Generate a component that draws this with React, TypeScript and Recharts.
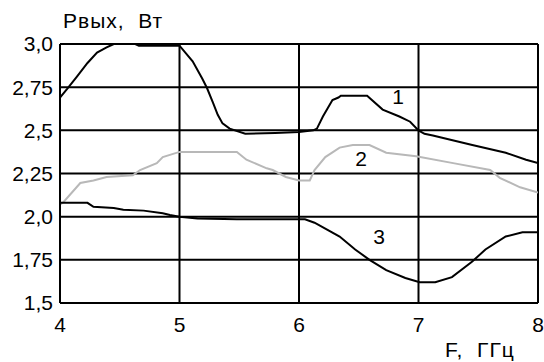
import React from "react";
import { LineChart, Line, XAxis, YAxis, CartesianGrid, ReferenceDot } from "recharts";

const xTicks = [4, 5, 6, 7, 8];
const yTicks = [1.5, 1.75, 2.0, 2.25, 2.5, 2.75, 3.0];
const yTickLabels = ["1,5", "1,75", "2,0", "2,25", "2,5", "2,75", "3,0"];

const s1x = [4.0, 4.06, 4.14, 4.23, 4.31, 4.39, 4.45, 4.63, 4.66, 5.0, 5.11, 5.19, 5.23, 5.28, 5.32, 5.36, 5.42, 5.55, 5.8, 6.0, 6.12, 6.15, 6.2, 6.28, 6.33, 6.35, 6.57, 6.7, 6.84, 6.93, 7.0, 7.05, 7.12, 7.45, 7.73, 7.9, 8.0];
const s1y = [2.69, 2.74, 2.81, 2.89, 2.95, 2.98, 3.0, 3.0, 2.99, 2.99, 2.9, 2.8, 2.745, 2.66, 2.59, 2.54, 2.51, 2.48, 2.485, 2.49, 2.5, 2.51, 2.58, 2.675, 2.69, 2.7, 2.7, 2.62, 2.58, 2.55, 2.5, 2.48, 2.47, 2.415, 2.37, 2.33, 2.31];

const s2x = [4.0, 4.03, 4.17, 4.28, 4.39, 4.61, 4.67, 4.81, 4.86, 5.0, 5.48, 5.56, 5.73, 5.78, 5.89, 6.0, 6.09, 6.13, 6.22, 6.34, 6.45, 6.59, 6.73, 6.98, 7.29, 7.6, 7.68, 7.85, 8.0];
const s2y = [2.07, 2.085, 2.195, 2.21, 2.23, 2.24, 2.27, 2.31, 2.345, 2.375, 2.375, 2.33, 2.28, 2.27, 2.23, 2.21, 2.21, 2.27, 2.345, 2.4, 2.415, 2.415, 2.37, 2.35, 2.31, 2.27, 2.225, 2.17, 2.14];

const s3x = [4.0, 4.23, 4.28, 4.45, 4.53, 4.7, 4.86, 4.92, 5.0, 5.15, 5.48, 6.05, 6.13, 6.34, 6.47, 6.59, 6.73, 6.89, 7.01, 7.14, 7.28, 7.45, 7.56, 7.73, 7.87, 8.0];
const s3y = [2.08, 2.08, 2.057, 2.05, 2.04, 2.035, 2.02, 2.01, 2.0, 1.99, 1.985, 1.985, 1.965, 1.885, 1.81, 1.75, 1.69, 1.645, 1.62, 1.62, 1.65, 1.74, 1.81, 1.885, 1.91, 1.91];

const curveLabels = ["1", "2", "3"];
const curveLabelX = [6.83, 6.52, 6.67];
const curveLabelY = [2.693, 2.335, 1.883];

const toData = (xs: number[], ys: number[]) => xs.map((x, i) => ({ x, y: ys[i] }));
const d1 = toData(s1x, s1y);
const d2 = toData(s2x, s2y);
const d3 = toData(s3x, s3y);

const FONT = "'Liberation Sans', Arial, sans-serif";

export default function App() {
  return (
    <div style={{ position: "absolute", left: 0, top: 0, width: 544, height: 362, background: "#fff" }}>
      <LineChart width={544} height={362} margin={{ top: 44, right: 6, left: 0, bottom: 0 }}>
        <CartesianGrid stroke="#000" strokeWidth={2} vertical horizontal />
        <XAxis
          dataKey="x"
          type="number"
          domain={[4, 8]}
          ticks={xTicks}
          height={59}
          tickLine={false}
          tickSize={0}
          tickMargin={14}
          axisLine={{ stroke: "#000", strokeWidth: 2 }}
          tick={{ fill: "#000", fontSize: 21, fontFamily: FONT }}
          allowDataOverflow
        />
        <YAxis
          type="number"
          domain={[1.5, 3.0]}
          ticks={yTicks}
          width={60}
          tickLine={false}
          tickSize={0}
          tickMargin={7}
          axisLine={{ stroke: "#000", strokeWidth: 2 }}
          tick={{ fill: "#000", fontSize: 21, fontFamily: FONT }}
          tickFormatter={(v: number) => yTickLabels[yTicks.indexOf(v)] ?? String(v)}
          allowDataOverflow
        />
        <Line data={d1} dataKey="y" type="linear" stroke="#000" strokeWidth={2} dot={false} isAnimationActive={false} />
        <Line data={d2} dataKey="y" type="linear" stroke="#b8b8b8" strokeWidth={2} dot={false} isAnimationActive={false} />
        <Line data={d3} dataKey="y" type="linear" stroke="#000" strokeWidth={2} dot={false} isAnimationActive={false} />
        {curveLabels.map((t, i) => (
          <ReferenceDot
            key={t}
            x={curveLabelX[i]}
            y={curveLabelY[i]}
            r={1}
            fill="none"
            stroke="none"
            label={{ value: t, position: "center", fill: "#000", fontSize: 21, fontFamily: FONT }}
          />
        ))}
      </LineChart>
      <div style={{ position: "absolute", left: 63, top: 9, fontFamily: FONT, fontSize: 21, lineHeight: "24px", letterSpacing: 1, color: "#000", whiteSpace: "pre" }}>
        {"Рвых,  Вт"}
      </div>
      <div style={{ position: "absolute", left: 445, top: 338, fontFamily: FONT, fontSize: 21, lineHeight: "24px", letterSpacing: 1, color: "#000", whiteSpace: "pre" }}>
        {"F,  ГГц"}
      </div>
    </div>
  );
}
